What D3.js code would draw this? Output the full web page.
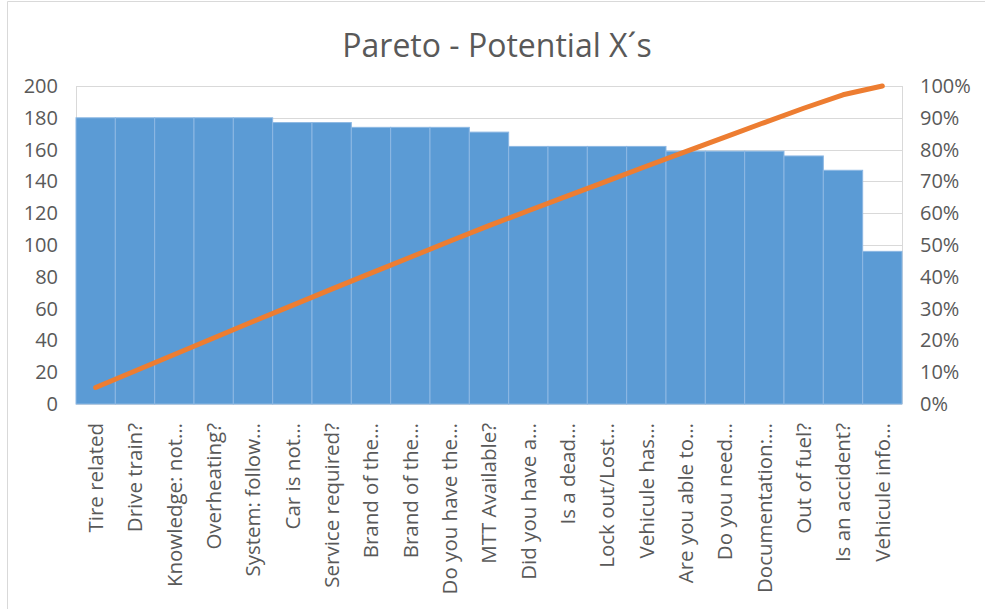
<!DOCTYPE html>
<html>
<head>
<meta charset="utf-8">
<script src="https://cdn.jsdelivr.net/npm/d3@7"></script>
<style>
  html, body { margin: 0; padding: 0; background: #fff; }
  svg { display: block; }
  text { font-family: "Open Sans", "Noto Sans", sans-serif; fill: #595959; }
</style>
</head>
<body>
<svg id="chart" width="985" height="609"></svg>
<script>
// Potential causes, sorted by count
const categories = [
  "Tire related", "Drive train?", "Knowledge: not…", "Overheating?",
  "System: follow…", "Car is not…", "Service required?", "Brand of the…",
  "Brand of the…", "Do you have the…", "MTT Available?", "Did you have a…",
  "Is a dead…", "Lock out/Lost…", "Vehicule has…", "Are you able to…",
  "Do you need…", "Documentation:…", "Out of fuel?", "Is an accident?",
  "Vehicule info…"
];
const counts = [180, 180, 180, 180, 180, 177, 177, 174, 174, 174, 171,
                162, 162, 162, 162, 159, 159, 159, 156, 147, 96];
const leftTicks = [0, 20, 40, 60, 80, 100, 120, 140, 160, 180, 200];
const rightTicks = [0, 0.1, 0.2, 0.3, 0.4, 0.5, 0.6, 0.7, 0.8, 0.9, 1.0];
const title = "Pareto - Potential X´s";

const svg = d3.select("#chart");
const W = 985, H = 609;
const plot = { left: 76, right: 902, top: 86, bottom: 404 };
const FONT = "'Open Sans', sans-serif";

// Outer chart frame (left and top edges are visible)
svg.append("line").attr("x1", 7.5).attr("x2", 7.5).attr("y1", 1.5).attr("y2", H)
  .attr("stroke", "#d9d9d9").attr("stroke-width", 1);
svg.append("line").attr("x1", 7.5).attr("x2", W).attr("y1", 1.5).attr("y2", 1.5)
  .attr("stroke", "#d9d9d9").attr("stroke-width", 1);

const idx = d3.range(categories.length);
const x = d3.scaleBand().domain(idx).range([plot.left, plot.right]).padding(0);
const y = d3.scaleLinear().domain([0, 200]).range([plot.bottom, plot.top]);
const y2 = d3.scaleLinear().domain([0, 1]).range([plot.bottom, plot.top]);

// Gridlines
svg.append("g").selectAll("line").data(leftTicks).join("line")
  .attr("x1", plot.left).attr("x2", plot.right)
  .attr("y1", d => Math.round(y(d)) + 0.5).attr("y2", d => Math.round(y(d)) + 0.5)
  .attr("stroke", "#d9d9d9").attr("stroke-width", 1);
// Plot area side edges
[plot.left, plot.right].forEach(px => {
  svg.append("line").attr("x1", px + 0.5).attr("x2", px + 0.5)
    .attr("y1", plot.top).attr("y2", plot.bottom)
    .attr("stroke", "#d9d9d9").attr("stroke-width", 1);
});

// Bars
svg.append("g").selectAll("rect").data(counts).join("rect")
  .attr("x", (d, i) => x(i))
  .attr("y", d => y(d))
  .attr("width", x.bandwidth())
  .attr("height", d => y(0) - y(d))
  .attr("fill", "#5b9bd5")
  .attr("stroke", "#8db8e3")
  .attr("stroke-width", 1);

// Cumulative percentage line
const total = d3.sum(counts);
let run = 0;
const cum = counts.map(v => (run += v) / total);
const line = d3.line().x((d, i) => x(i) + x.bandwidth() / 2).y(d => y2(d));
svg.append("path").datum(cum)
  .attr("d", line)
  .attr("fill", "none")
  .attr("stroke", "#ed7d31")
  .attr("stroke-width", 5)
  .attr("stroke-linecap", "round")
  .attr("stroke-linejoin", "round");

// Left axis
const leftAxis = d3.axisLeft(y).tickValues(leftTicks).tickSize(0).tickPadding(0);
svg.append("g").attr("transform", `translate(${plot.left - 18},0)`)
  .call(leftAxis)
  .call(g => g.select(".domain").remove())
  .call(g => g.selectAll("text").attr("font-size", 20).attr("fill", "#595959")
    .attr("font-family", FONT));

// Right axis
const rightAxis = d3.axisRight(y2).tickValues(rightTicks).tickSize(0).tickPadding(0)
  .tickFormat(d3.format(".0%"));
svg.append("g").attr("transform", `translate(${plot.right + 18},0)`)
  .call(rightAxis)
  .call(g => g.select(".domain").remove())
  .call(g => g.selectAll("text").attr("font-size", 20).attr("fill", "#595959")
    .attr("font-family", FONT));

// Category labels, rotated
const bottomAxis = d3.axisBottom(x).tickSize(0).tickPadding(0)
  .tickFormat(i => categories[i]);
svg.append("g").attr("transform", `translate(0,${plot.bottom + 19})`)
  .call(bottomAxis)
  .call(g => g.select(".domain").remove())
  .call(g => g.selectAll("text")
    .attr("font-size", 20.5).attr("fill", "#595959")
    .attr("font-family", FONT)
    .attr("text-anchor", "end")
    .attr("dy", "0.35em")
    .attr("transform", "rotate(-90)")
    .attr("x", 0).attr("y", 0));

// Title
svg.append("text")
  .attr("x", 497).attr("y", 57)
  .attr("text-anchor", "middle")
  .attr("font-size", 32)
  .attr("fill", "#595959")
  .attr("font-family", FONT)
  .text(title);
</script>
</body>
</html>
